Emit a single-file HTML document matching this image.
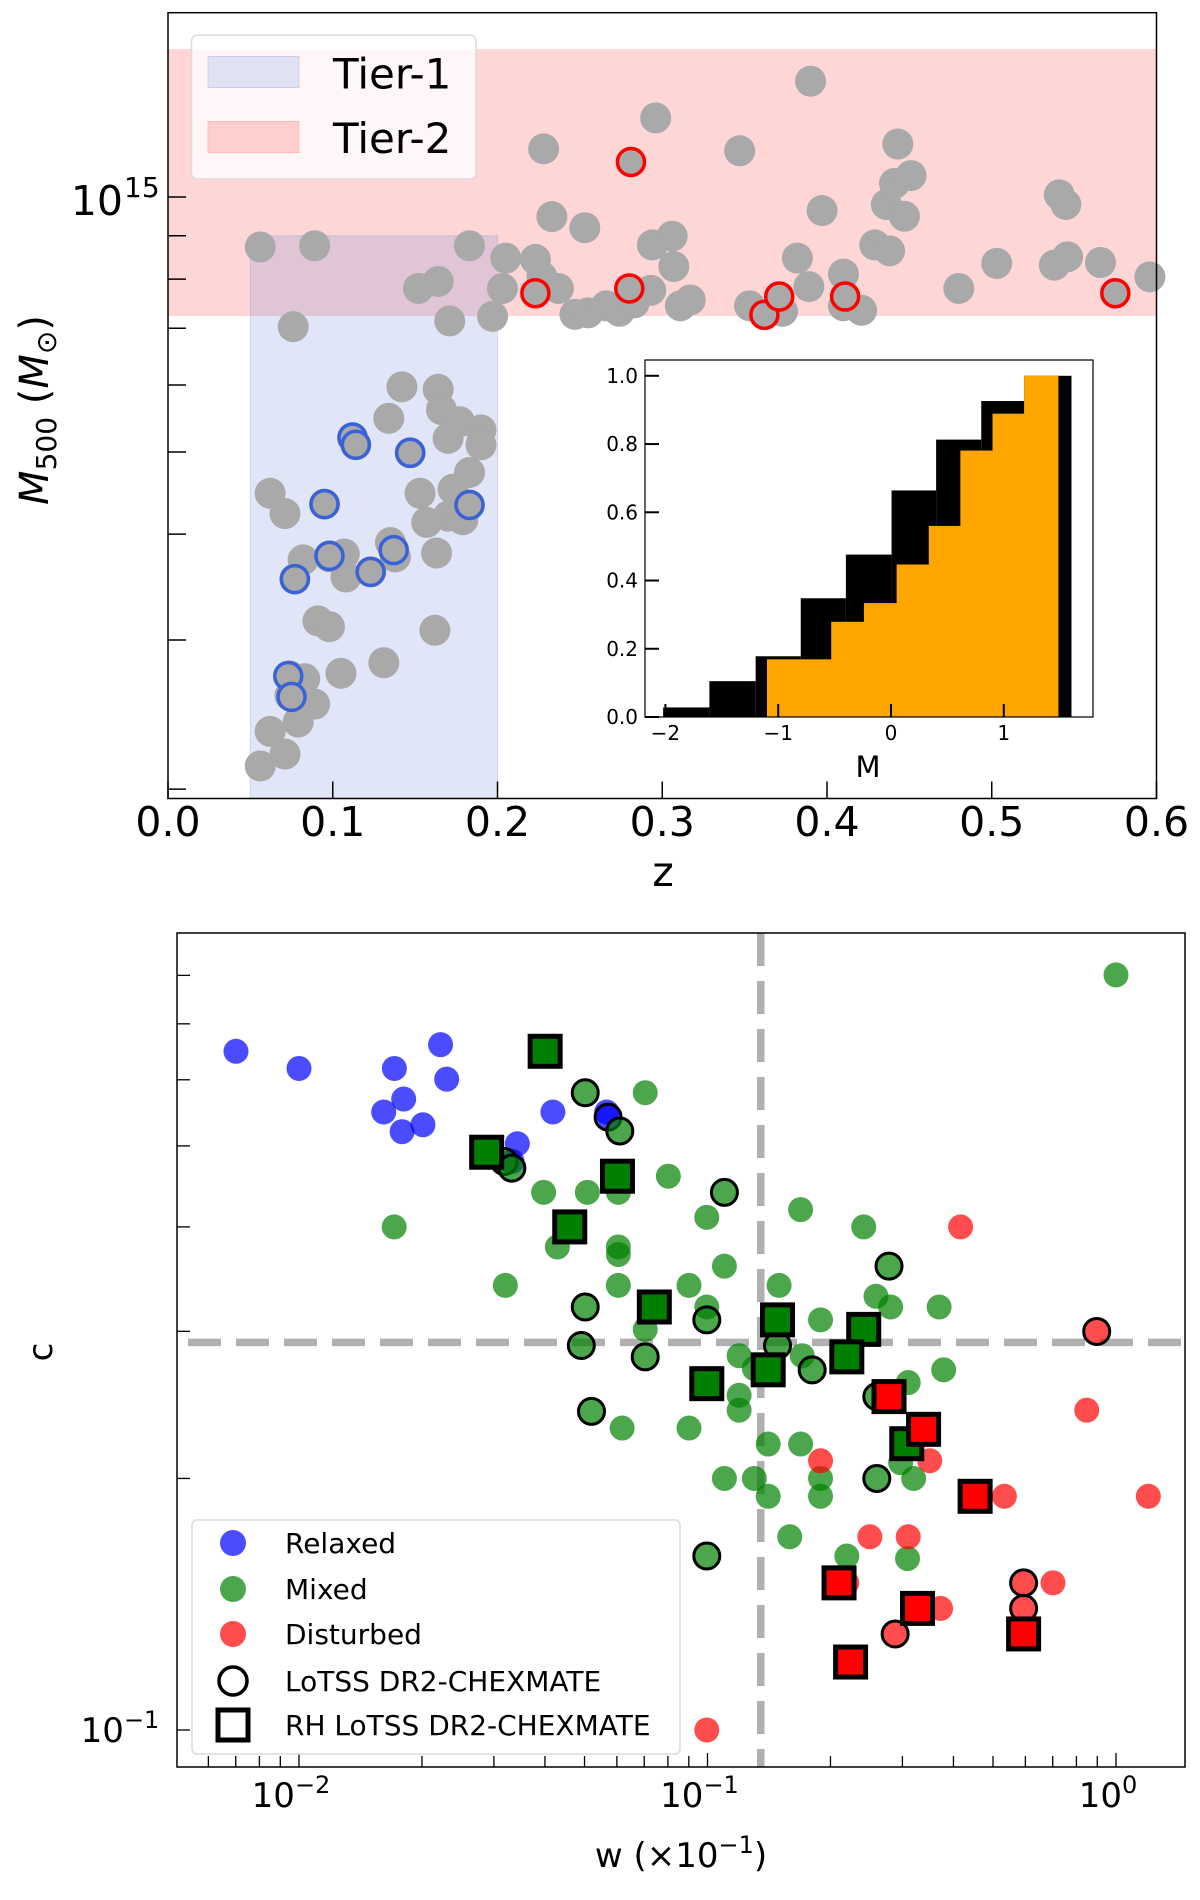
<!DOCTYPE html>
<html><head><meta charset="utf-8"><style>
html,body{margin:0;padding:0;background:#fff;}
svg{display:block;font-family:"DejaVu Sans","Liberation Sans",sans-serif;}
</style></head><body>
<svg id="fig" width="1200" height="1900" viewBox="0 0 1200 1900" xmlns="http://www.w3.org/2000/svg">
<g id="top"></g>
<g id="inset"></g>
<g id="bot"></g>
</svg>
<script>
// ---------- Top panel data ----------
const grayZ = [0.056,0.089,0.076,0.152,0.164,0.171,0.183,0.197,0.205,0.203,0.223,0.227,0.237,0.228,0.233,0.253,0.247,0.255,0.266,0.274,0.283,0.293,0.296,0.294,0.306,0.307,0.311,0.317,0.347,0.353,0.373,0.382,0.389,0.390,0.397,0.410,0.410,0.421,0.429,0.436,0.438,0.441,0.443,0.447,0.451,0.480,0.503,0.538,0.541,0.545,0.546,0.566,0.596,
0.142,0.164,0.166,0.177,0.190,0.170,0.190,0.134,0.183,0.153,0.173,0.157,0.170,0.179,0.163,0.062,0.071,0.082,0.098,0.107,0.108,0.135,0.138,0.091,0.098,0.162,0.105,0.131,0.083,0.074,0.089,0.079,0.062,0.071,0.056,0.074,0.112,0.114,0.147,0.095,0.183,0.098,0.077,0.123,0.137];
const grayM = [8.73,8.76,7.03,7.80,7.95,7.14,8.76,7.23,8.47,7.80,8.44,8.05,7.80,11.4,9.48,9.2,7.27,7.30,7.44,7.33,7.5,7.76,12.4,8.78,8.99,8.28,7.44,7.56,11.34,7.44,7.33,8.47,7.84,13.7,9.64,8.11,7.44,7.35,8.78,9.80,8.64,10.38,11.55,9.49,10.6,7.80,8.35,8.31,10.06,9.80,8.5,8.37,8.05,
5.97,5.93,5.61,5.43,5.31,5.19,5.10,5.48,4.73,4.47,4.52,4.13,4.20,4.16,3.80,4.47,4.23,3.73,3.76,3.79,3.56,3.91,3.76,3.16,3.11,3.08,2.74,2.82,2.70,2.58,2.52,2.40,2.34,2.20,2.13,2.72,5.2,5.1,4.99,4.34,4.33,3.77,3.54,3.61,3.83];
const redZ = [0.223,0.281,0.280,0.362,0.371,0.411,0.575];
const redM = [7.7,11.0,7.8,7.26,7.63,7.63,7.7];
const blueZ = [0.112,0.114,0.147,0.095,0.183,0.098,0.077,0.123,0.137,0.073,0.075];
const blueM = [5.2,5.1,4.99,4.34,4.33,3.77,3.54,3.61,3.83,2.72,2.57];
const zTicks = [0.0,0.1,0.2,0.3,0.4,0.5,0.6];
const zTickLabels = ["0.0","0.1","0.2","0.3","0.4","0.5","0.6"];
const mMinorTicks = [2,3,4,5,6,7,8,9];
const tier1 = [0.05,0.2,9.0];      // zmin, zmax, Mmax (1e14)
const tier2 = [7.236,14.95];       // Mmin, Mmax (1e14)
// ---------- Inset histogram data ----------
const blackEdges = [-2.02,-1.61,-1.20,-0.80,-0.40,0.005,0.40,0.80,1.18,1.60];
const blackVals = [0.028,0.105,0.178,0.348,0.476,0.664,0.813,0.926,1.0];
const orangeEdges = [-1.10,-0.53,-0.24,0.05,0.335,0.615,0.90,1.18,1.48];
const orangeVals = [0.169,0.279,0.334,0.447,0.560,0.781,0.889,1.0];
const insetXTicks = [-2,-1,0,1];
const insetXLabels = ["\u22122","\u22121","0","1"];
const insetYTicks = [0,0.2,0.4,0.6,0.8,1.0];
const insetYLabels = ["0.0","0.2","0.4","0.6","0.8","1.0"];
// ---------- Bottom panel data ----------
const relaxedW = [0.00701,0.01,0.01712,0.02221,0.02299,0.01804,0.01612,0.01788,0.02011,0.04183,0.03424,0.05665,0.03323];
const relaxedC = [0.649,0.619,0.619,0.661,0.601,0.569,0.549,0.520,0.530,0.549,0.503,0.549,0.479];
const mixedW = [1.0,0.0704,0.0802,0.0397,0.0508,0.0605,0.0171,0.0429,0.0605,0.0605,0.0320,0.0996,0.11,0.169,0.2412,0.0605,0.0901,0.0996,0.1497,0.2585,0.2807,0.369,0.1891,0.0704,0.1195,0.1302,0.1705,0.310,0.3786,0.1195,0.1195,0.0618,0.0901,0.1408,0.169,0.11,0.1302,0.1408,0.1891,0.1891,0.3196,0.159,0.2193,0.3088,0.297];
const mixedC = [0.801,0.579,0.460,0.440,0.440,0.440,0.400,0.3785,0.3785,0.3707,0.3405,0.4107,0.359,0.4195,0.400,0.3405,0.3405,0.3208,0.3405,0.3304,0.3208,0.3208,0.3096,0.3016,0.2805,0.2708,0.2805,0.2605,0.2698,0.2515,0.2414,0.2298,0.2298,0.2199,0.2199,0.2,0.2,0.1904,0.2,0.1904,0.2,0.1703,0.1615,0.1604,0.2089];
const disturbedW = [0.4165,0.848,1.2,0.533,0.350,0.1891,0.2497,0.310,0.701,0.372,0.0996,0.2193];
const disturbedC = [0.400,0.2414,0.1904,0.1904,0.21,0.21,0.1703,0.1703,0.15,0.1398,0.1,0.15];
const lotssW = [0.0502,0.0571,0.061,0.0318,0.0332,0.11,0.2782,0.0502,0.0996,0.0491,0.0704,0.1804,0.2597,0.052,0.2597,0.0996,0.1484,0.897,0.594,0.594,0.288];
const lotssC = [0.579,0.5414,0.521,0.479,0.4703,0.440,0.359,0.3208,0.3096,0.2885,0.2796,0.2698,0.2506,0.2406,0.2,0.1615,0.2885,0.2999,0.15,0.1398,0.1303];
const lotssCls = ["m","r","m","m","m","m","m","m","m","m","m","m","m","m","m","m","m","d","d","d","d"];
const rhW = [0.04005,0.0288,0.0602,0.046,0.0741,0.1484,0.2412,0.2193,0.1408,0.0996,0.3075,0.2782,0.338,0.452,0.2099,0.3267,0.594,0.224];
const rhC = [0.649,0.4914,0.460,0.400,0.3208,0.3096,0.3016,0.2796,0.2698,0.2597,0.2201,0.2506,0.229,0.1904,0.15,0.1398,0.1303,0.1206];
const rhCls = ["m","m","m","m","m","m","m","m","m","m","m","d","d","d","d","d","d","d"];
const wMajor = [0.01,0.1,1];
const wMajorExp = ["\u22122","\u22121","0"];
const cMinor = [0.2,0.3,0.4,0.5,0.6,0.7,0.8];
const cSplit = 0.291, wSplit = 0.135;

const NS="http://www.w3.org/2000/svg";
function mk(parent,tag,attrs,text){const e=document.createElementNS(NS,tag);for(const k in attrs)e.setAttribute(k,attrs[k]);if(text!==undefined)e.textContent=text;parent.appendChild(e);return e;}

// ===== Top panel =====
const T=document.getElementById('top');
const tL=168,tR=1156.5,tT=12.7,tB=798.5;
const tLogTop=15.2176,tLogBot=14.290;
const zx=z=>tL+(z-0)/(0.6)*(tR-tL);
const my=m=>tT+(tLogTop-(14+Math.log10(m)))/(tLogTop-tLogBot)*(tB-tT);
let e;
e=mk(T,'rect',{x:tL,y:my(tier2[1]),width:tR-tL,height:my(tier2[0])-my(tier2[1]),fill:'rgba(255,0,0,0.16)'});

e=mk(T,'rect',{x:zx(tier1[0]),y:my(tier1[2]),width:zx(tier1[1])-zx(tier1[0]),height:tB-my(tier1[2]),fill:'rgba(100,130,220,0.2)',stroke:'rgba(100,130,220,0.25)','stroke-width':1});

for(let i=0;i<grayZ.length;i++){e=mk(T,'circle',{cx:zx(grayZ[i]),cy:my(grayM[i]),r:15.5,fill:'#a9a9a9'});
}
for(let i=0;i<redZ.length;i++){e=mk(T,'circle',{cx:zx(redZ[i]),cy:my(redM[i]),r:13.5,fill:'#a9a9a9',stroke:'#ff0000','stroke-width':3.5});
}
for(let i=0;i<blueZ.length;i++){e=mk(T,'circle',{cx:zx(blueZ[i]),cy:my(blueM[i]),r:13.5,fill:'#a9a9a9',stroke:'#3a62d8','stroke-width':3.5});
}
e=mk(T,'rect',{x:tL,y:tT,width:tR-tL,height:tB-tT,fill:'none',stroke:'#000','stroke-width':1.5});

zTicks.forEach((z,i)=>{
 e=mk(T,'line',{x1:zx(z),x2:zx(z),y1:tB,y2:tB-17,stroke:'#000','stroke-width':1.5});
 
 e=mk(T,'text',{x:zx(z),y:836,'font-size':41,'text-anchor':'middle'},zTickLabels[i]);
 
});
[10].concat(mMinorTicks).forEach(m=>{
 e=mk(T,'line',{x1:tL,x2:tL+18,y1:my(m),y2:my(m),stroke:'#000','stroke-width':1.5});
 
});
e=mk(T,'text',{x:123,y:215,'font-size':41,'text-anchor':'end'},'10');

e=mk(T,'text',{x:124,y:197,'font-size':28},'15');

e=mk(T,'text',{x:663,y:886,'font-size':41,'text-anchor':'middle'},'z');

e=mk(T,'text',{transform:'translate(48,410) rotate(-90)','font-size':40,'text-anchor':'middle'});

mk(e,'tspan',{'font-style':'italic'},'M');mk(e,'tspan',{'font-size':28,dy:8},'500');mk(e,'tspan',{dy:-8},' (');mk(e,'tspan',{'font-style':'italic'},'M');mk(e,'tspan',{'font-size':28,dy:8},'\u2299');mk(e,'tspan',{dy:-8},')');
// legend
const lg=mk(T,'g',{});
mk(lg,'rect',{x:191.5,y:35,width:284.5,height:144,rx:6,fill:'rgba(255,255,255,0.8)',stroke:'#dcdcdc','stroke-width':1.5});
e=mk(lg,'rect',{x:208,y:56.5,width:91,height:31,fill:'#e1e1f4',stroke:'#c8d0f0'});
e=mk(lg,'text',{x:333,y:88.5,'font-size':42},'Tier-1');
e=mk(lg,'rect',{x:208,y:121.5,width:91,height:31,fill:'#ffcfcf',stroke:'#ffbcbc'});
e=mk(lg,'text',{x:333,y:153,'font-size':42},'Tier-2');

// ===== Inset =====
const I=document.getElementById('inset');
const iL=645,iR=1093,iT=360,iB=717;
const ix=v=>665.4+(v+2)*112.8;
const iy=v=>iB-v*341.2;
mk(I,'rect',{x:iL,y:iT,width:iR-iL,height:iB-iT,fill:'#fff'});
for(let i=0;i<blackVals.length;i++){e=mk(I,'rect',{x:ix(blackEdges[i]),y:iy(blackVals[i]),width:ix(blackEdges[i+1])-ix(blackEdges[i]),height:iB-iy(blackVals[i]),fill:'#000'});
}
for(let i=0;i<orangeVals.length;i++){e=mk(I,'rect',{x:ix(orangeEdges[i]),y:iy(orangeVals[i]),width:ix(orangeEdges[i+1])-ix(orangeEdges[i])+0.5,height:iB-iy(orangeVals[i]),fill:'#ffa500'});
}
e=mk(I,'rect',{x:iL,y:iT,width:iR-iL,height:iB-iT,fill:'none',stroke:'#000','stroke-width':1.2});

insetXTicks.forEach((v,i)=>{
 e=mk(I,'line',{x1:ix(v),x2:ix(v),y1:iB,y2:iB-13,stroke:'#000','stroke-width':2});
 e=mk(I,'text',{x:ix(v),y:740,'font-size':20,'text-anchor':'middle'},insetXLabels[i]);
});
insetYTicks.forEach((v,i)=>{
 e=mk(I,'line',{x1:iL,x2:iL+14,y1:iy(v),y2:iy(v),stroke:'#000','stroke-width':2});
 e=mk(I,'text',{x:638,y:iy(v)+7,'font-size':20,'text-anchor':'end'},insetYLabels[i]);
});
e=mk(I,'text',{x:868,y:777,'font-size':29,'text-anchor':'middle'},'M');

// ===== Bottom panel =====
const B=document.getElementById('bot');
const bL=177,bR=1185,bT=933,bB=1767;
const wx=w=>299+(Math.log10(w)+2)*408.5;
const cy=c=>1730-(Math.log10(c)+1)*835.6;
const COL={r:'rgba(0,0,255,0.7)',m:'rgba(0,128,0,0.7)',d:'rgba(255,0,0,0.7)'};
const SQ={m:'#007f00',d:'#ff0000'};
e=mk(B,'line',{x1:188,x2:bR,y1:cy(cSplit),y2:cy(cSplit),stroke:'#b0b0b0','stroke-width':7.5,'stroke-dasharray':'33 15'});

e=mk(B,'line',{x1:wx(wSplit),x2:wx(wSplit),y1:bT,y2:bB,stroke:'#b0b0b0','stroke-width':7.5,'stroke-dasharray':'33 15'});

for(let i=0;i<relaxedW.length;i++){e=mk(B,'circle',{cx:wx(relaxedW[i]),cy:cy(relaxedC[i]),r:12.5,fill:COL.r});}
for(let i=0;i<mixedW.length;i++){e=mk(B,'circle',{cx:wx(mixedW[i]),cy:cy(mixedC[i]),r:12.5,fill:COL.m});}
for(let i=0;i<disturbedW.length;i++){e=mk(B,'circle',{cx:wx(disturbedW[i]),cy:cy(disturbedC[i]),r:12.5,fill:COL.d});}
for(let i=0;i<lotssW.length;i++){e=mk(B,'circle',{cx:wx(lotssW[i]),cy:cy(lotssC[i]),r:13,fill:COL[lotssCls[i]],stroke:'#000','stroke-width':3});}
for(let i=0;i<rhW.length;i++){e=mk(B,'rect',{x:wx(rhW[i])-15,y:cy(rhC[i])-15,width:30,height:30,fill:SQ[rhCls[i]],stroke:'#000','stroke-width':5});}
e=mk(B,'rect',{x:bL,y:bT,width:bR-bL,height:bB-bT,fill:'none',stroke:'#000','stroke-width':1.5});

// x ticks
for(let d=-3;d<=0;d++){for(let k=1;k<=9;k++){const w=k*Math.pow(10,d);const x=wx(w);if(x<bL+1||x>bR-1)continue;
 e=mk(B,'line',{x1:x,x2:x,y1:bB,y2:bB-(k===1?14:11),stroke:'#000','stroke-width':1.3});}}
wMajor.forEach((w,i)=>{e=mk(B,'text',{x:wx(w)-8,y:1807,'font-size':34,'text-anchor':'middle'});
 mk(e,'tspan',{},'10');mk(e,'tspan',{'font-size':24,dy:-14},wMajorExp[i]);});
// y ticks
[0.1].concat(cMinor).forEach(c=>{e=mk(B,'line',{x1:bL,x2:bL+13,y1:cy(c),y2:cy(c),stroke:'#000','stroke-width':1.3});});
e=mk(B,'text',{x:120,y:1742,'font-size':34,'text-anchor':'middle'});
mk(e,'tspan',{},'10');mk(e,'tspan',{'font-size':24,dy:-14},'\u22121');
e=mk(B,'text',{transform:'translate(52,1352) rotate(-90)','font-size':34,'text-anchor':'middle'},'c');
e=mk(B,'text',{x:681,y:1867,'font-size':34,'text-anchor':'middle'});
mk(e,'tspan',{},'w (\u00d710');mk(e,'tspan',{'font-size':24,dy:-14},'\u22121');mk(e,'tspan',{dy:14},')');
// legend
const bl=mk(B,'g',{});
mk(bl,'rect',{x:192,y:1520,width:488,height:234,rx:5,fill:'rgba(255,255,255,0.8)',stroke:'#dcdcdc','stroke-width':1.5});
const items=[['Relaxed','c',COL.r],['Mixed','c',COL.m],['Disturbed','c',COL.d],['LoTSS DR2-CHEXMATE','o',null],['RH LoTSS DR2-CHEXMATE','s',null]];
const ly=[1543,1589,1634,1681,1725];
items.forEach((it,i)=>{
 if(it[1]==='c')e=mk(bl,'circle',{cx:233,cy:ly[i],r:13,fill:it[2]});
 else if(it[1]==='o')e=mk(bl,'circle',{cx:233,cy:ly[i],r:14,fill:'none',stroke:'#000','stroke-width':3.5});
 else e=mk(bl,'rect',{x:218,y:ly[i]-15,width:30,height:30,fill:'none',stroke:'#000','stroke-width':5});
 
 e=mk(bl,'text',{x:285,y:ly[i]+10,'font-size':28},it[0]);
 
});
</script>
</body></html>
